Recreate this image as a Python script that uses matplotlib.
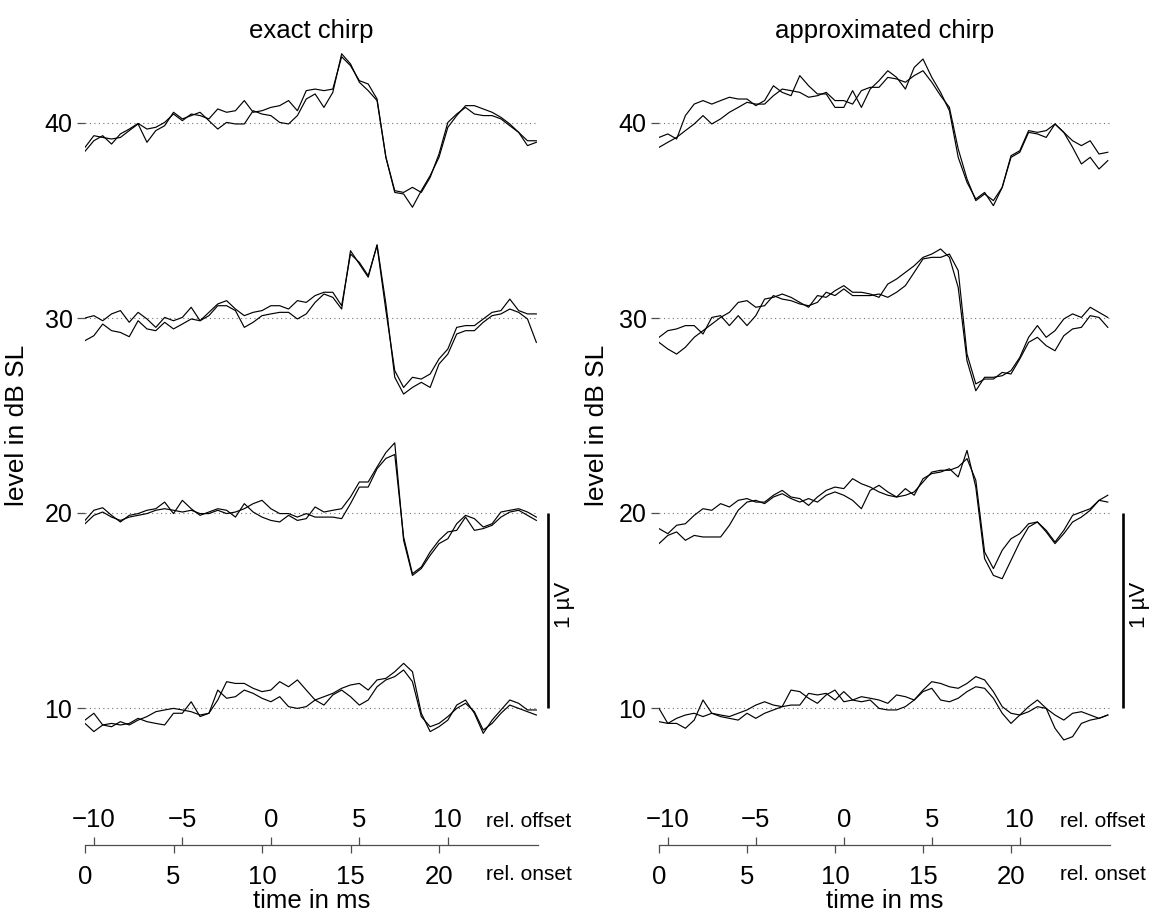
import numpy as np
import matplotlib.pyplot as plt

plt.rcParams['font.family'] = ['Liberation Sans', 'DejaVu Sans']

# sample times relative to stimulus onset (ms), 0.5 ms steps
t = np.arange(52) * 0.5
levels = [40, 30, 20, 10]          # dB SL, also used as trace baselines
onset_ticks = [0, 5, 10, 15, 20]
offset_ticks = [-10, -5, 0, 5, 10]
offset_shift = 10.5                # ms between onset and offset scale

# averaged responses in uV, two repetitions per level
exact_40a = [-0.125, -0.065, -0.074, -0.082, -0.074, -0.039, -0.005, -0.099, -0.039, -0.014,
             0.055, 0.021, 0.038, 0.055, 0.012, -0.031, 0.003, -0.005, -0.005, 0.063,
             0.046, 0.038, 0.003, -0.005, 0.038, 0.123, 0.149, 0.080, 0.157, 0.355,
             0.303, 0.209, 0.166, 0.115, -0.176, -0.347, -0.356, -0.330, -0.356, -0.279,
             -0.159, 0.003, 0.046, 0.080, 0.046, 0.038, 0.038, 0.021, -0.014, -0.048,
             -0.091, -0.091]
exact_40b = [-0.145, -0.091, -0.065, -0.108, -0.056, -0.031, -0.002, -0.031, -0.022, 0.003,
             0.046, 0.012, 0.046, 0.038, 0.021, 0.072, 0.055, 0.063, 0.115, 0.055,
             0.063, 0.080, 0.089, 0.115, 0.063, 0.166, 0.174, 0.166, 0.174, 0.340,
             0.294, 0.217, 0.200, 0.123, -0.176, -0.356, -0.364, -0.432, -0.347, -0.270,
             -0.176, -0.022, 0.038, 0.089, 0.089, 0.072, 0.055, 0.029, -0.005, -0.048,
             -0.116, -0.099]
exact_30a = [0.000, 0.012, -0.014, 0.021, 0.038, -0.022, 0.029, -0.005, -0.048, 0.003,
             -0.014, 0.003, 0.055, -0.014, 0.029, 0.072, 0.089, 0.046, 0.012, 0.029,
             0.038, 0.063, 0.063, 0.046, 0.089, 0.080, 0.115, 0.132, 0.132, 0.063,
             0.328, 0.285, 0.217, 0.371, 0.038, -0.270, -0.356, -0.304, -0.313, -0.287,
             -0.210, -0.159, -0.048, -0.039, -0.039, -0.005, 0.029, 0.038, 0.097, 0.038,
             0.021, 0.021]
exact_30b = [-0.116, -0.091, -0.031, -0.065, -0.074, -0.096, -0.014, -0.056, -0.065, -0.022,
             -0.056, -0.031, -0.005, -0.014, 0.012, 0.063, 0.063, 0.038, -0.048, -0.022,
             0.012, 0.021, 0.029, 0.029, -0.005, 0.021, 0.080, 0.123, 0.106, 0.046,
             0.345, 0.277, 0.209, 0.376, 0.072, -0.304, -0.390, -0.356, -0.330, -0.356,
             -0.236, -0.185, -0.082, -0.065, -0.065, -0.022, 0.012, 0.021, 0.046, 0.029,
             -0.005, -0.125]
exact_20a = [-0.038, 0.014, 0.027, -0.012, -0.046, -0.012, -0.003, 0.014, 0.022, 0.056,
             -0.003, 0.065, 0.022, -0.012, 0.005, 0.022, 0.014, -0.021, 0.048, 0.005,
             -0.021, -0.038, -0.046, -0.012, -0.038, -0.029, 0.031, 0.005, 0.014, 0.022,
             0.082, 0.159, 0.159, 0.236, 0.310, 0.360, -0.140, -0.320, -0.285, -0.217,
             -0.157, -0.132, -0.055, -0.012, -0.029, -0.072, -0.055, 0.005, 0.014, 0.022,
             0.005, -0.021]
exact_20b = [-0.055, -0.012, 0.005, -0.021, -0.038, -0.021, -0.012, -0.003, 0.014, 0.022,
             0.014, 0.005, 0.014, -0.003, -0.003, 0.014, -0.003, 0.005, 0.022, 0.048,
             0.065, 0.022, -0.003, -0.003, -0.021, -0.003, -0.021, -0.021, -0.021, -0.029,
             0.048, 0.133, 0.133, 0.227, 0.280, 0.300, -0.123, -0.311, -0.277, -0.200,
             -0.140, -0.097, -0.089, -0.021, -0.089, -0.080, -0.063, -0.021, 0.005, 0.014,
             -0.012, -0.038]
exact_10a = [-0.079, -0.121, -0.087, -0.079, -0.087, -0.079, -0.053, -0.070, -0.079, -0.087,
             -0.027, -0.027, 0.032, -0.044, -0.027, 0.041, 0.135, 0.126, 0.126, 0.101,
             0.084, 0.092, 0.135, 0.109, 0.144, 0.092, 0.041, 0.058, 0.075, 0.101,
             0.118, 0.126, 0.092, 0.144, 0.152, 0.186, 0.229, 0.186, -0.027, -0.121,
             -0.096, -0.062, 0.015, 0.041, -0.027, -0.130, -0.062, -0.010, 0.041, 0.024,
             -0.010, -0.010]
exact_10b = [-0.062, -0.027, -0.087, -0.096, -0.070, -0.087, -0.062, -0.044, -0.019, -0.010,
             -0.002, -0.010, -0.019, -0.036, -0.027, 0.092, 0.050, 0.058, 0.092, 0.075,
             0.050, 0.032, 0.058, 0.007, -0.002, 0.007, 0.041, 0.015, 0.067, 0.092,
             0.058, 0.015, 0.041, 0.109, 0.144, 0.161, 0.195, 0.135, -0.044, -0.096,
             -0.079, -0.044, -0.002, 0.024, -0.019, -0.113, -0.079, -0.027, 0.015, -0.002,
             -0.019, -0.036]

approx_40a = [-0.074, -0.056, -0.082, 0.038, 0.097, 0.115, 0.097, 0.115, 0.132, 0.123,
              0.123, 0.089, 0.115, 0.191, 0.157, 0.140, 0.243, 0.191, 0.149, 0.149,
              0.080, 0.080, 0.166, 0.080, 0.174, 0.217, 0.268, 0.234, 0.174, 0.285,
              0.328, 0.234, 0.157, 0.063, -0.176, -0.304, -0.390, -0.356, -0.424, -0.330,
              -0.176, -0.150, -0.048, -0.056, -0.074, -0.005, -0.048, -0.125, -0.210, -0.176,
              -0.236, -0.193]
approx_40b = [-0.125, -0.099, -0.074, -0.039, -0.005, 0.038, -0.005, 0.021, 0.055, 0.080,
              0.106, 0.097, 0.097, 0.140, 0.174, 0.166, 0.157, 0.132, 0.140, 0.157,
              0.115, 0.115, 0.097, 0.166, 0.183, 0.183, 0.234, 0.226, 0.209, 0.243,
              0.268, 0.209, 0.140, 0.080, -0.133, -0.287, -0.398, -0.364, -0.398, -0.330,
              -0.168, -0.142, -0.039, -0.048, -0.039, -0.005, -0.048, -0.091, -0.116, -0.091,
              -0.159, -0.150]
approx_30a = [-0.099, -0.065, -0.056, -0.039, -0.039, -0.082, 0.003, 0.012, -0.039, 0.012,
              -0.039, 0.012, 0.097, 0.106, 0.123, 0.106, 0.080, 0.055, 0.115, 0.106,
              0.140, 0.166, 0.132, 0.132, 0.123, 0.106, 0.174, 0.200, 0.234, 0.268,
              0.311, 0.328, 0.354, 0.311, 0.157, -0.219, -0.373, -0.304, -0.304, -0.296,
              -0.270, -0.202, -0.099, -0.039, -0.099, -0.065, -0.005, 0.021, 0.003, 0.055,
              0.029, 0.003]
approx_30b = [-0.125, -0.159, -0.185, -0.150, -0.099, -0.065, -0.031, 0.003, 0.029, 0.080,
              0.089, 0.055, 0.063, 0.115, 0.097, 0.089, 0.072, 0.063, 0.080, 0.132,
              0.115, 0.149, 0.115, 0.115, 0.115, 0.123, 0.106, 0.132, 0.166, 0.234,
              0.303, 0.311, 0.311, 0.328, 0.243, -0.185, -0.338, -0.313, -0.313, -0.279,
              -0.287, -0.210, -0.125, -0.099, -0.142, -0.168, -0.091, -0.056, -0.048, 0.012,
              0.003, -0.048]
approx_20a = [-0.080, -0.106, -0.063, -0.055, -0.012, 0.022, 0.014, 0.048, 0.031, 0.065,
              0.074, 0.056, 0.056, 0.091, 0.116, 0.082, 0.074, 0.039, 0.082, 0.116,
              0.133, 0.125, 0.176, 0.150, 0.133, 0.108, 0.091, 0.082, 0.125, 0.091,
              0.176, 0.202, 0.210, 0.227, 0.185, 0.321, 0.133, -0.234, -0.320, -0.337,
              -0.243, -0.149, -0.072, -0.046, -0.097, -0.157, -0.106, -0.046, -0.021, 0.014,
              0.065, 0.056]
approx_20b = [-0.157, -0.115, -0.097, -0.140, -0.115, -0.123, -0.123, -0.123, -0.063, 0.014,
              0.056, 0.065, 0.048, 0.082, 0.099, 0.074, 0.056, 0.074, 0.056, 0.091,
              0.108, 0.091, 0.065, 0.022, 0.116, 0.142, 0.108, 0.082, 0.091, 0.108,
              0.159, 0.210, 0.219, 0.219, 0.236, 0.279, 0.168, -0.200, -0.285, -0.191,
              -0.132, -0.106, -0.055, -0.046, -0.089, -0.149, -0.089, -0.012, 0.005, 0.022,
              0.065, 0.091]
approx_10a = [-0.002, -0.079, -0.079, -0.104, -0.062, 0.041, -0.027, -0.044, -0.053, -0.062,
              -0.027, -0.053, -0.027, -0.010, 0.007, 0.092, 0.084, 0.050, 0.024, 0.067,
              0.092, 0.032, 0.041, 0.032, 0.041, -0.002, -0.010, -0.010, 0.007, 0.041,
              0.084, 0.101, 0.041, 0.032, 0.050, 0.084, 0.109, 0.101, 0.050, -0.027,
              -0.079, -0.036, 0.007, 0.041, -0.002, -0.104, -0.164, -0.147, -0.079, -0.062,
              -0.053, -0.036]
approx_10b = [-0.070, -0.079, -0.053, -0.036, -0.027, -0.044, -0.027, -0.036, -0.044, -0.027,
              -0.010, 0.015, 0.032, 0.015, 0.007, 0.015, 0.015, 0.075, 0.067, 0.075,
              0.041, 0.084, 0.041, 0.058, 0.050, 0.041, 0.024, 0.067, 0.058, 0.041,
              0.092, 0.135, 0.126, 0.109, 0.101, 0.126, 0.161, 0.144, 0.084, 0.007,
              -0.027, -0.036, -0.019, 0.007, -0.002, -0.036, -0.062, -0.027, -0.019, -0.036,
              -0.053, -0.036]

panels = [
    ("exact chirp", [(exact_40a, exact_40b), (exact_30a, exact_30b),
                     (exact_20a, exact_20b), (exact_10a, exact_10b)]),
    ("approximated chirp", [(approx_40a, approx_40b), (approx_30a, approx_30b),
                            (approx_20a, approx_20b), (approx_10a, approx_10b)]),
]

W, H = 1157, 911
fig = plt.figure(figsize=(W / 100, H / 100), dpi=100)

# pixel layout of the two panels: left edge, px per ms, ylabel x, bar x, bar label x
layout = [(85, 17.7, 17, 26.15, 27.4), (659, 17.6, 597, 26.35, 27.6)]
tmax = 25.6

for (title, traces), (x0, ppm, ylab_x, bar_x, lab_x) in zip(panels, layout):
    w = tmax * ppm
    ax = fig.add_axes([x0 / W, 1 - 805.5 / H, w / W, 780 / H])
    ax.set_xlim(0, tmax)
    ax.set_ylim(5, 45)
    for s in ax.spines.values():
        s.set_visible(False)
    ax.set_xticks([])
    ax.set_yticks(levels)
    ax.tick_params(axis='y', length=5.5, width=0.9, color='0.3', labelsize=18, pad=3.5)

    for lev, (a, b) in zip(levels, traces):
        ax.plot([0, tmax], [lev, lev], color='0.45', lw=0.8, linestyle=(0, (1, 3)))
        ax.plot(t, lev + 10 * np.array(a), color='k', lw=0.85)
        ax.plot(t, lev + 10 * np.array(b), color='k', lw=0.85)

    # 1 uV scale bar (10 dB units on the level axis)
    ax.plot([bar_x, bar_x], [10, 20], color='k', lw=1.9, clip_on=False,
            solid_capstyle='butt')
    ax.text(lab_x, 15.3, "1 µV", rotation=90, rotation_mode='anchor', ha='center',
            va='baseline', fontsize=16)

    fig.text((x0 + w / 2) / W, 1 - 37.7 / H, title, ha='center', va='baseline',
             fontsize=18.5)
    fig.text(ylab_x / W, 1 - 425 / H, "level in dB SL", rotation=90, ha='center',
             va='center', fontsize=19)

    # time axis: onset below the line, offset above
    tax = fig.add_axes([x0 / W, 1 - 845 / H, w / W, 1e-6])
    tax.set_xlim(0, tmax)
    tax.patch.set_visible(False)
    tax.set_yticks([])
    for k in ['left', 'right', 'top']:
        tax.spines[k].set_visible(False)
    tax.spines['bottom'].set_color('0.3')
    tax.spines['bottom'].set_linewidth(0.9)
    tax.set_xticks(onset_ticks)
    tax.tick_params(axis='x', direction='out', length=5.5, width=0.9, color='0.3',
                    labelsize=18.5, pad=9)
    sec = tax.secondary_xaxis('top', functions=(lambda x: x - offset_shift,
                                                lambda x: x + offset_shift))
    sec.set_xticks(offset_ticks)
    sec.spines['top'].set_visible(False)
    sec.tick_params(axis='x', direction='out', length=5.5, width=0.9, color='0.3',
                    labelsize=18.5, pad=4)

    fig.text((x0 + 401) / W, 1 - 827 / H, "rel. offset", va='baseline', fontsize=15)
    fig.text((x0 + 401) / W, 1 - 880 / H, "rel. onset", va='baseline', fontsize=15)
    fig.text((x0 + w / 2) / W, 1 - 907.7 / H, "time in ms", ha='center', va='baseline',
             fontsize=18.5)

fig.savefig("out.png", dpi=100)
